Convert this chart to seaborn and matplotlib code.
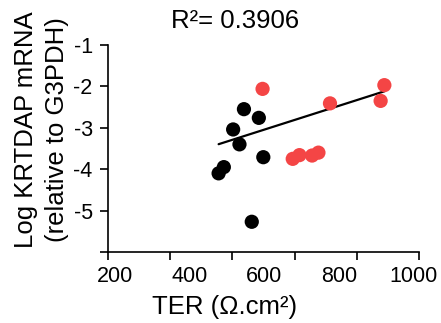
import numpy as np
import pandas as pd
import seaborn as sns
from matplotlib import pyplot as plt

# Data ===================================================================
ter_black = [545, 585, 516, 533, 597, 491, 477, 566]
krtdap_black = [-2.55, -2.76, -3.04, -3.40, -3.71, -3.95, -4.10, -5.27]

ter_red = [595, 776, 922, 912, 676, 694, 728, 745]
krtdap_red = [-2.06, -2.41, -1.97, -2.35, -3.75, -3.66, -3.67, -3.60]

# fitted line as drawn in the figure
fit_slope = 0.00287
fit_intercept = -4.765
r_squared = "0.3906"

x_tick_labels = [200, 400, 600, 800, 1000]
y_tick_labels = [-1, -2, -3, -4, -5]

df = pd.DataFrame(
    {
        "TER": ter_black + ter_red,
        "KRTDAP": krtdap_black + krtdap_red,
        "group": ["black"] * len(ter_black) + ["red"] * len(ter_red),
    }
)

x_fit = np.array([df["TER"].min(), df["TER"].max()])
fit_df = pd.DataFrame({"TER": x_fit, "KRTDAP": fit_slope * x_fit + fit_intercept})

### Plot ==================================================================
sns.set_style("ticks")
plt.rcParams["font.family"] = ["Liberation Sans", "DejaVu Sans"]
plt.rcParams["text.color"] = "black"
plt.rcParams["axes.labelcolor"] = "black"
plt.rcParams["xtick.color"] = "black"
plt.rcParams["ytick.color"] = "black"

fig = plt.figure(figsize=(4.41, 3.23), dpi=100)
ax = fig.add_axes([0.2449, 0.2198, 0.7052, 0.6409])

sns.lineplot(data=fit_df, x="TER", y="KRTDAP", color="black", lw=1.6, ax=ax, zorder=2)
sns.scatterplot(
    data=df,
    x="TER",
    y="KRTDAP",
    hue="group",
    palette={"black": "black", "red": "#f44545"},
    s=105,
    linewidth=0,
    legend=False,
    ax=ax,
    zorder=3,
)

ax.set_xlim(180, 1015)
ax.set_ylim(-6, -1)

# tick labels and tick marks do not line up in the original
ax.set_xticks(x_tick_labels)
ax.set_xticklabels([str(v) for v in x_tick_labels], fontsize=15.5)
ax.set_xticks(np.linspace(180, 1015, 6), minor=True)
ax.tick_params(axis="x", which="major", length=0, pad=10)
ax.tick_params(axis="x", which="minor", length=6, width=1.2, direction="out")

ax.set_yticks(y_tick_labels + [-6])
ax.set_yticklabels([str(v) for v in y_tick_labels] + [""], fontsize=15.5)
ax.tick_params(axis="y", which="major", length=6, width=1.2, pad=5)

for side in ["top", "right"]:
    ax.spines[side].set_visible(False)
for side in ["left", "bottom"]:
    ax.spines[side].set_linewidth(1.2)
    ax.spines[side].set_color("black")

ax.set_xlabel("TER (Ω.cm²)", fontsize=18.5)
ax.xaxis.set_label_coords(0.376, -0.21)
ax.set_ylabel("Log KRTDAP mRNA\n(relative to G3PDH)", fontsize=18.5, linespacing=1.4)
ax.yaxis.set_label_coords(-0.125, 0.59)

ax.set_title("R²= " + r_squared, fontsize=18.5, x=0.41, y=1.04)

fig.savefig("out.png", dpi=100)
